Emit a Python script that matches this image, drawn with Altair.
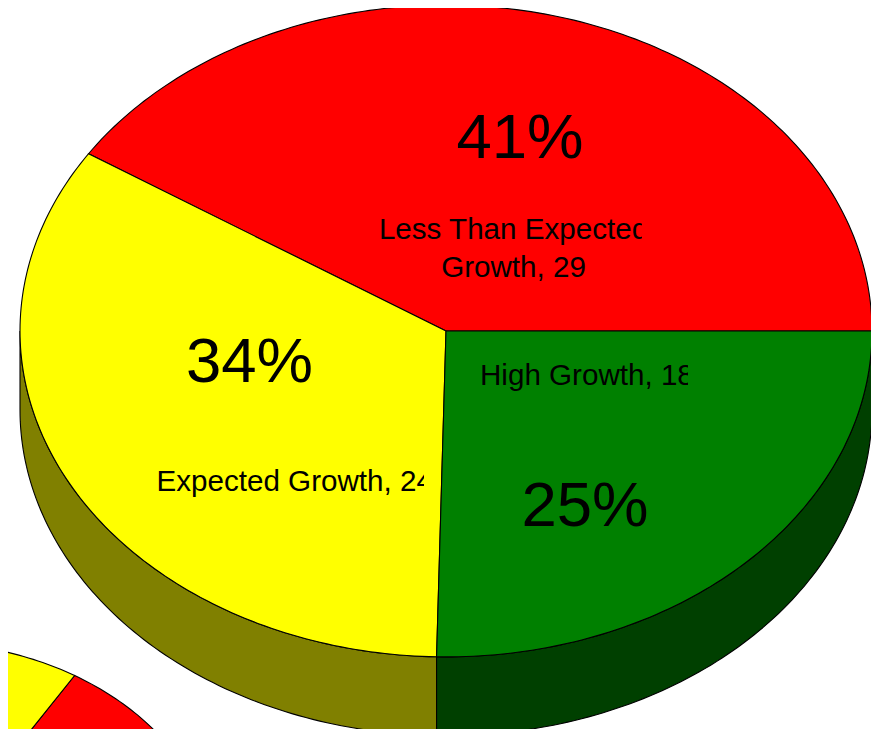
import math
import altair as alt

# Values
categories = ["Less Than Expected Growth", "Expected Growth", "High Growth"]
values = [29, 24, 18]
top_colors = ["#ff0000", "#ffff00", "#008000"]
side_colors = ["#800000", "#808000", "#004000"]

# Second pie, mostly outside the picture
small_values = [13, 67]
small_colors = ["#ff0000", "#ffff00"]
small_sides = ["#800000", "#808000"]

Y_RATIO = 0.765
DEPTH = 0.185


def arc(cx, cy, r, a0, a1, drop=0.0):
    n = max(2, int(abs(a1 - a0) / 1.0) + 1)
    pts = []
    for i in range(n + 1):
        a = math.radians(a0 + (a1 - a0) * i / n)
        pts.append([cx + r * math.cos(a), cy + r * Y_RATIO * math.sin(a) - drop])
    return pts


def pie_features(vals, tops, sides, cx, cy, r):
    total = sum(vals)
    walls, faces = [], []
    start = 0.0
    for v, top, side in zip(vals, tops, sides):
        end = start + 360.0 * v / total
        lo, hi = max(start, 180.0), min(end, 360.0)
        if hi > lo:
            upper = arc(cx, cy, r, lo, hi)
            lower = arc(cx, cy, r, hi, lo, DEPTH * r)
            ring = upper + lower + [upper[0]]
            walls.append({"type": "Feature", "properties": {"fill": side},
                          "geometry": {"type": "Polygon", "coordinates": [ring]}})
        ring = [[cx, cy]] + arc(cx, cy, r, start, end) + [[cx, cy]]
        faces.append({"type": "Feature", "properties": {"fill": top},
                      "geometry": {"type": "Polygon", "coordinates": [ring]}})
        start = end
    return walls + faces


features = pie_features(small_values, small_colors, small_sides, -1.235, -1.262, 0.695)
features += pie_features(values, top_colors, side_colors, 0.0, 0.0, 1.0)

pie = (
    alt.Chart(alt.Data(values=features))
    .mark_geoshape(stroke="black", strokeWidth=1.1)
    .encode(fill=alt.Fill("properties.fill:N", scale=None))
    .project(type="identity", scale=426, translate=[438, 323], reflectY=True)
)

FONT = "Liberation Sans"


def text(label, x, y, size, align="center", line_height=None):
    kw = {"lineHeight": line_height, "lineBreak": "\n"} if line_height else {}
    return (
        alt.Chart(alt.Data(values=[{"t": label}]))
        .mark_text(font=FONT, fontSize=size, align=align, baseline="middle", color="black", **kw)
        .encode(text="t:N", x=alt.value(x - 8), y=alt.value(y - 8))
    )


def mask(x0, x1, y0, y1, color):
    return (
        alt.Chart(alt.Data(values=[{"m": 1}]))
        .mark_rect(color=color)
        .encode(x=alt.value(x0 - 8), x2=alt.value(x1 - 8), y=alt.value(y0 - 8), y2=alt.value(y1 - 8))
    )


chart = alt.layer(
    pie,
    text("41%", 520, 139, 63.5),
    text("34%", 249.5, 363, 63.5),
    text("25%", 585, 507, 63.5),
    text("Less Than Expected\nGrowth, 29", 513.5, 230, 29.6, line_height=38),
    text("High Growth, 18", 480, 376, 29.6, align="left"),
    text("Expected Growth, 24", 156.5, 482, 29.6, align="left"),
    mask(642, 680, 212, 246, "#ff0000"),
    mask(688, 716, 358, 392, "#008000"),
    mask(424, 438, 464, 498, "#ffff00"),
).properties(
    width=863, height=721, padding=0, autosize=alt.AutoSizeParams(type="none"), background="white"
).configure_view(stroke=None)

chart.save("out.html", embed_options={"renderer": "svg", "actions": False})
